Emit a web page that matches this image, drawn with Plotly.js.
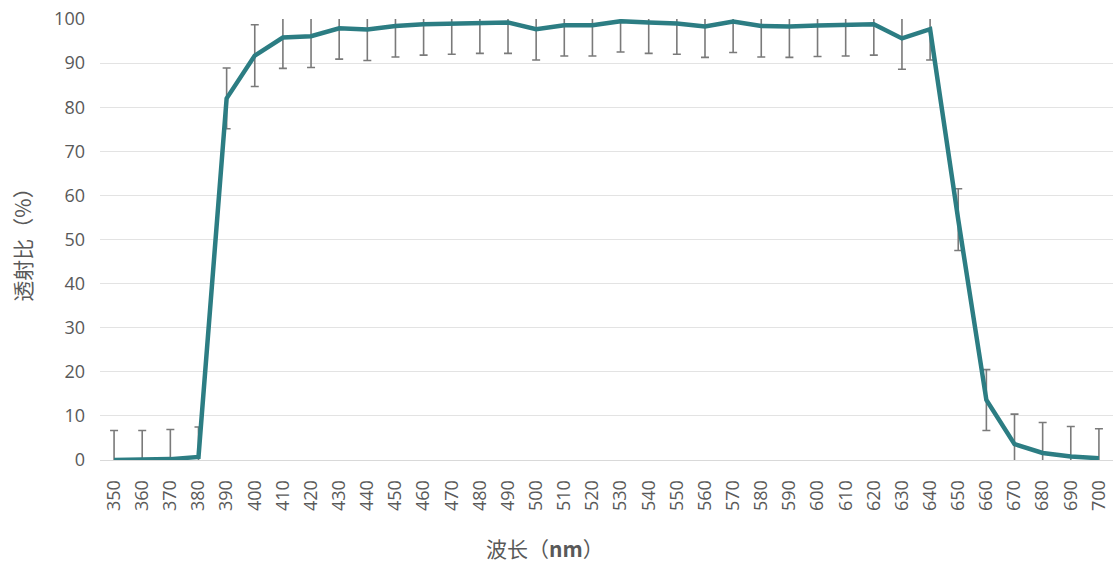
<!DOCTYPE html>
<html>
<head>
<meta charset="utf-8">
<script src="https://cdn.plot.ly/plotly-3.0.1.min.js"></script>
<style>html,body{margin:0;padding:0;background:#fff;}#chart{width:1114px;height:563px;}</style>
</head>
<body>
<div id="chart"></div>
<script>
const wavelengths = ["350","360","370","380","390","400","410","420","430","440","450","460","470","480","490","500","510","520","530","540","550","560","570","580","590","600","610","620","630","640","650","660","670","680","690","700"];
const transmittance = [0,0,0.2,0.7,82.0,91.7,95.8,96.1,97.9,97.6,98.4,98.8,99.0,99.2,99.2,97.7,98.6,98.6,99.5,99.2,99.0,98.3,99.4,98.4,98.3,98.5,98.6,98.8,95.6,97.7,54.5,13.6,3.6,1.6,0.8,0.4];
const errorValues = [6.7,6.7,6.7,6.8,6.9,7.0,7.0,7.1,7.0,7.0,7.0,7.0,7.0,7.0,7.0,7.0,7.0,7.0,7.0,7.0,7.0,7.0,7.0,7.0,7.0,7.0,7.0,7.0,7.0,7.0,7.0,6.9,6.8,6.9,6.8,6.7];
const yTicks = [0,10,20,30,40,50,60,70,80,90,100];

const trace = {
  x: wavelengths,
  y: transmittance,
  type: 'scatter',
  mode: 'lines',
  line: {color: '#2c7d83', width: 4.5},
  error_y: {type: 'data', array: errorValues, visible: true, color: '#7a7a7a', thickness: 1.6, width: 4},
  hoverinfo: 'x+y'
};

const layout = {
  width: 1114, height: 563,
  margin: {l: 100, r: 1, t: 19, b: 103},
  paper_bgcolor: '#ffffff', plot_bgcolor: '#ffffff',
  showlegend: false,
  font: {family: 'Open Sans, Noto Sans CJK SC, sans-serif', color: '#595959'},
  xaxis: {
    type: 'category',
    range: [-0.5, 35.5],
    tickangle: -90,
    tickfont: {size: 18, color: '#595959', family: 'Open Sans, sans-serif'},
    ticks: '',
    ticklabelstandoff: 12,
    showgrid: false,
    showline: true, linecolor: '#d9d9d9', linewidth: 1,
    zeroline: false
  },
  yaxis: {
    range: [0, 100],
    tickvals: yTicks,
    tickfont: {size: 18, color: '#595959', family: 'Open Sans, sans-serif'},
    ticks: '',
    ticklabelstandoff: 14,
    showgrid: true, gridcolor: '#e3e3e3', gridwidth: 1,
    zeroline: false,
    showline: false,
    title: {text: '透射比（%）', font: {size: 21, color: '#595959', family: 'Noto Sans CJK SC, sans-serif'}, standoff: 16}
  },
  annotations: [{
    text: '波长（<b>nm</b>）',
    xref: 'paper', yref: 'paper',
    x: 0.439, y: -0.2,
    xanchor: 'center', yanchor: 'middle',
    showarrow: false,
    font: {size: 21, color: '#595959', family: 'Noto Sans CJK SC, sans-serif'}
  }]
};

Plotly.newPlot('chart', [trace], layout, {displayModeBar: false, staticPlot: true});
</script>
</body>
</html>
